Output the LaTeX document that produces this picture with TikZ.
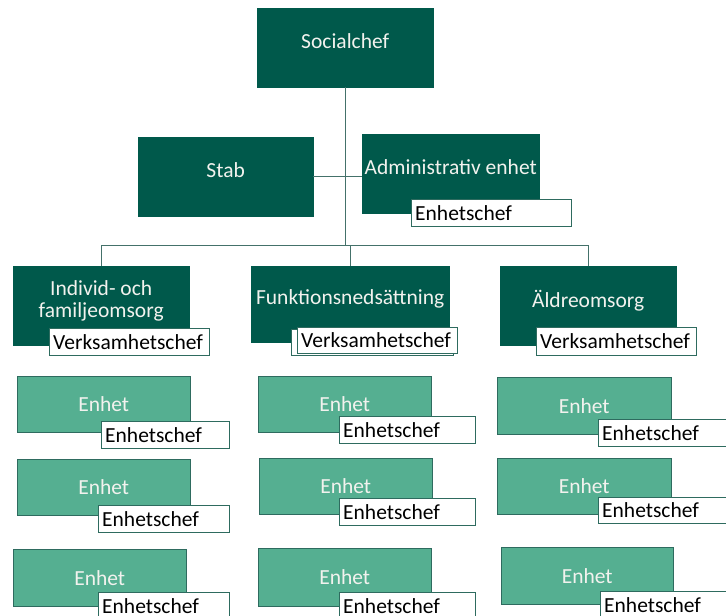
\documentclass[tikz,border=0pt]{standalone}
\usepackage{fontspec}
\setmainfont{Carlito}
\definecolor{dkgreen}{HTML}{00594B}
\definecolor{ltgreen}{HTML}{55AF91}
\definecolor{edge}{HTML}{2E6B5F}
\definecolor{conn}{HTML}{44716A}
\definecolor{txtlight}{HTML}{F2F2EE}
\tikzset{
  dk/.style={draw=dkgreen, fill=dkgreen, text=txtlight, anchor=north west, inner sep=0pt,
    font=\fontsize{21.5}{22}\selectfont, align=center, text depth=14pt},
  lt/.style={draw=edge, fill=ltgreen, text=txtlight, anchor=north west, inner sep=0pt,
    font=\fontsize{21.5}{22}\selectfont, align=center},
  lab/.style={draw=edge, fill=white, text=black, anchor=north west, inner xsep=4pt, inner ysep=0pt,
    font=\fontsize{21.5}{22}\selectfont, align=left},
  conline/.style={draw=conn, line width=1pt}
}
\begin{document}
\begin{tikzpicture}[x=1pt,y=1pt]
\useasboundingbox (0,0) rectangle (726,-616);
\clip (0,0) rectangle (726,-616);
% top level
\node[dk, minimum width=176, minimum height=79] (soc) at (257,-8) {Socialchef};
\node[dk, minimum width=175, minimum height=79] (stab) at (138,-137) {Stab};
\node[dk, minimum width=177, minimum height=79] (adm) at (362,-134) {Administrativ enhet};
\node[lab, minimum height=27, text width=152] (admL) at (411,-199) {Enhetschef};
% second level
\node[dk, minimum width=176, minimum height=79] (ind) at (13,-266) {Individ- och\\familjeomsorg};
\node[dk, minimum width=198, minimum height=76] (fun) at (251,-266) {Funktionsnedsättning};
\node[dk, minimum width=176, minimum height=79] (ald) at (500,-266) {Äldreomsorg};
\node[lab, minimum height=27, text width=152] (indL) at (49,-328) {Verksamhetschef};
\node[draw=edge, fill=white, anchor=north west, minimum width=162, minimum height=26, inner sep=0pt] (funS) at (291,-329) {};
\node[lab, minimum height=26, text width=152] (funL) at (297,-327) {Verksamhetschef};
\node[lab, minimum height=28, text width=152] (aldL) at (536,-327) {Verksamhetschef};
% connectors
\coordinate (hub) at (344,-245);
\draw[conline] (soc.south) -- (soc.south |- hub);
\draw[conline] (stab.east) -- (stab.east -| adm.west);
\draw[conline] (ind.north) -- (ind.north |- hub) -- (ald.north |- hub) -- (ald.north);
\draw[conline] (fun.north) -- (fun.north |- hub);
% units column 1
\node[lt, minimum width=173, minimum height=56] (u11) at (17,-376) {Enhet};
\node[lab, minimum height=27, text width=120] (l11) at (101,-421) {Enhetschef};
\node[lt, minimum width=173, minimum height=56] (u12) at (17,-459) {Enhet};
\node[lab, minimum height=27, text width=123] (l12) at (98,-505) {Enhetschef};
\node[lt, minimum width=173, minimum height=57] (u13) at (13,-549) {Enhet};
\node[lab, minimum height=27, text width=123] (l13) at (98,-592) {Enhetschef};
% units column 2
\node[lt, minimum width=173, minimum height=56] (u21) at (258,-376) {Enhet};
\node[lab, minimum height=27, text width=128] (l21) at (339,-416) {Enhetschef};
\node[lt, minimum width=173, minimum height=56] (u22) at (259,-458) {Enhet};
\node[lab, minimum height=27, text width=128] (l22) at (339,-498) {Enhetschef};
\node[lt, minimum width=173, minimum height=58] (u23) at (258,-548) {Enhet};
\node[lab, minimum height=27, text width=128] (l23) at (339,-592) {Enhetschef};
% units column 3
\node[lt, minimum width=174, minimum height=57] (u31) at (497,-377) {Enhet};
\node[lab, minimum height=27, text width=130] (l31) at (598,-419) {Enhetschef};
\node[lt, minimum width=174, minimum height=56] (u32) at (497,-458) {Enhet};
\node[lab, minimum height=26, text width=130] (l32) at (598,-497) {Enhetschef};
\node[lt, minimum width=172, minimum height=57] (u33) at (501,-547) {Enhet};
\node[lab, minimum height=27, text width=130] (l33) at (600,-591) {Enhetschef};
\end{tikzpicture}
\end{document}
